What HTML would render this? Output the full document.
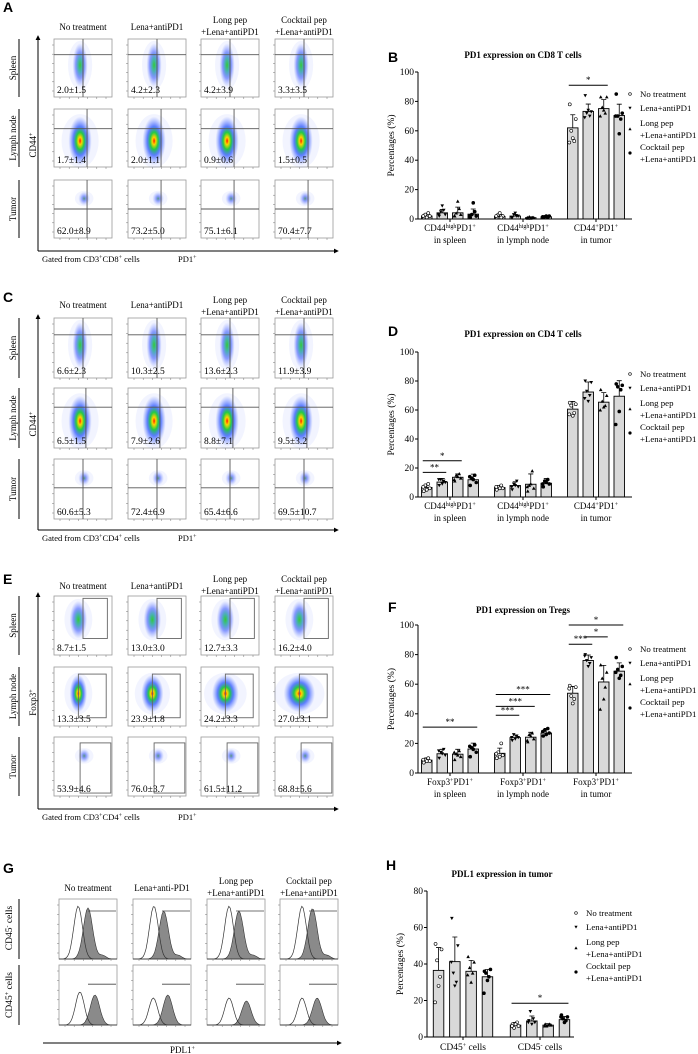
<!DOCTYPE html>
<html><head><meta charset="utf-8">
<style>
html,body{margin:0;padding:0;background:#fff;}
svg{display:block;font-family:"Liberation Serif",serif;}
</style></head>
<body>
<svg id="fig" width="698" height="1054" viewBox="0 0 698 1054" xmlns="http://www.w3.org/2000/svg">
<defs>
<radialGradient id="hot"><stop offset="0" stop-color="#ff1a00"/><stop offset="0.15" stop-color="#ffd400"/><stop offset="0.35" stop-color="#22cc44"/><stop offset="0.6" stop-color="#1f4cff" stop-opacity="0.7"/><stop offset="1" stop-color="#5070ff" stop-opacity="0"/></radialGradient>
<radialGradient id="warm"><stop offset="0" stop-color="#33cc33"/><stop offset="0.3" stop-color="#20a0a0" stop-opacity="0.8"/><stop offset="0.6" stop-color="#2040ff" stop-opacity="0.5"/><stop offset="1" stop-color="#5070ff" stop-opacity="0"/></radialGradient>
<radialGradient id="cool"><stop offset="0" stop-color="#30805a" stop-opacity="0.8"/><stop offset="0.4" stop-color="#2040ff" stop-opacity="0.45"/><stop offset="1" stop-color="#6080ff" stop-opacity="0"/></radialGradient>
<marker id="ah" viewBox="0 0 6 6" refX="5" refY="3" markerWidth="5" markerHeight="5" orient="auto"><path d="M0,0 L6,3 L0,6 z" fill="#000"/></marker>
</defs>
</svg>
<script>
// ---------- chart data ----------
const groupMarkers = ['open-circle','down-triangle','up-triangle','filled-circle'];
const legendLabels = [['No treatment'],['Lena+antiPD1'],['Long pep','+Lena+antiPD1'],['Cocktail pep','+Lena+antiPD1']];
const pctTicks = [0,20,40,60,80,100];
const hTicks = [0,20,40,60,80];

const B_categories = [['CD44','high','PD1','+','in spleen'],['CD44','high','PD1','+','in lymph node'],['CD44','+','PD1','+','in tumor']];
const B_means = [[2.0,4.2,4.2,3.3],[1.7,2.0,0.9,1.5],[62.0,73.2,75.1,70.4]];
const B_errs = [[1.5,2.3,3.9,3.5],[1.4,1.1,0.6,0.5],[8.9,5.0,6.1,7.7]];
const B_points = [
 [[1,2,3,4,1,2],[2,3,5,6,9,3],[2,3,4,7,12,2],[1,2,3,5,11,2]],
 [[1,2,3,1,4,2],[1,2,3,2,4,1],[0.5,1,1.5,1,0.5,1],[1,2,1.5,1,2,1.5]],
 [[78,68,60,53,55,52],[84,73,72,70,74,69],[83,83,76,72,74,70],[85,72,70,68,58,70]]];
const B_sig = [[2,0,2,91,'*']];

const D_categories = [['CD44','high','PD1','+','in spleen'],['CD44','high','PD1','+','in lymph node'],['CD44','+','PD1','+','in tumor']];
const D_means = [[6.6,10.3,13.6,11.9],[6.5,7.9,8.8,9.5],[60.6,72.4,65.4,69.5]];
const D_errs = [[2.3,2.5,2.3,3.9],[1.5,2.6,7.1,3.2],[5.3,6.9,6.6,10.7]];
const D_points = [
 [[4,6,8,9,5,7],[8,10,12,11,9,12],[11,13,15,16,14,12],[8,10,13,15,12,14]],
 [[5,6,7,8,6,7],[5,7,9,11,8,7],[4,6,8,18,9,7],[7,9,11,12,10,9]],
 [[65,64,63,58,56,57],[80,79,73,70,66,68],[74,70,66,63,62,60],[78,77,76,74,59,50]]];
const D_sig = [[0,0,1,17,'**'],[0,0,2,25,'*']];

const F_categories = [['Foxp3','+','PD1','+','in spleen'],['Foxp3','+','PD1','+','in lymph node'],['Foxp3','+','PD1','+','in tumor']];
const F_means = [[8.7,13.0,12.7,16.2],[13.3,23.9,24.2,27.0],[53.9,76.0,61.5,68.8]];
const F_errs = [[1.5,3.0,3.3,4.0],[3.5,1.8,3.3,3.1],[4.6,3.7,11.2,5.6]];
const F_points = [
 [[7,8,9,10,8,9],[10,12,14,16,13,15],[9,11,13,15,12,14],[11,14,17,19,16,18]],
 [[10,12,14,20,11,13],[22,24,26,25,23,24],[21,23,26,27,25,22],[25,27,29,30,26,28]],
 [[59,58,52,50,47,57],[80,78,76,74,72,79],[73,68,64,58,50,43],[78,72,70,66,64,68]]];
const F_sig = [[0,0,3,31,'**'],[1,0,1,39,'***'],[1,0,2,45,'***'],[1,0,3,53,'***'],[2,0,1,87,'***'],[2,1,2,92,'*'],[2,0,3,100,'*']];

const H_categories = [['CD45','+','','',' cells'],['CD45','-','','',' cells']];
const H_means = [[36.5,41.3,36.0,33.0],[6.5,8.8,6.5,9.5]];
const H_errs = [[12.5,13.5,6.0,4.0],[1.5,2.7,0.8,1.7]];
const H_points = [
 [[51,48,42,33,28,19],[65,50,35,30,28,41],[44,41,38,35,30,34],[36,37,35,33,31,24]],
 [[7,6,5,8,7,6],[9,8,14,10,7,8],[7,6.5,6,7,6.5,6],[12,11,10,9,8,11]]];
const H_sig = [[1,0,3,18.5,'*']];

// flow / histogram values
const flowHeaders = [['No treatment'],['Lena+antiPD1'],['Long pep','+Lena+antiPD1'],['Cocktail pep','+Lena+antiPD1']];
const gHeaders = [['No treatment'],['Lena+anti-PD1'],['Long pep','+Lena+antiPD1'],['Cocktail pep','+Lena+antiPD1']];
const A_values = [['2.0±1.5','4.2±2.3','4.2±3.9','3.3±3.5'],['1.7±1.4','2.0±1.1','0.9±0.6','1.5±0.5'],['62.0±8.9','73.2±5.0','75.1±6.1','70.4±7.7']];
const C_values = [['6.6±2.3','10.3±2.5','13.6±2.3','11.9±3.9'],['6.5±1.5','7.9±2.6','8.8±7.1','9.5±3.2'],['60.6±5.3','72.4±6.9','65.4±6.6','69.5±10.7']];
const E_values = [['8.7±1.5','13.0±3.0','12.7±3.3','16.2±4.0'],['13.3±3.5','23.9±1.8','24.2±3.3','27.0±3.1'],['53.9±4.6','76.0±3.7','61.5±11.2','68.8±5.6']];

// ---------- helpers ----------
const NS='http://www.w3.org/2000/svg';
const svg=document.getElementById('fig');
function mk(tag,attrs,parent){const e=document.createElementNS(NS,tag);for(const k in attrs)e.setAttribute(k,attrs[k]);(parent||svg).appendChild(e);return e;}
function txt(x,y,s,attrs,parent){const e=mk('text',Object.assign({x:x,y:y,'font-size':9},attrs||{}),parent);e.innerHTML=s;return e;}
const colX=[54,128,201,275];
const colW=58;

function panelLabel(ch,x,y){
  const t=txt(x,y,ch,{'font-family':'Liberation Sans, sans-serif','font-weight':'bold','font-size':14});
  
  
}

function headers(list,ySingle,y1,y2,xs,w){
  list.forEach((h,i)=>{
    const cx=xs[i]+w/2;
    if(h.length===1){
      const t=txt(cx,ySingle,h[0],{'text-anchor':'middle','font-size':9});
      
      
    } else {
      const t1=txt(cx,y1,h[0],{'text-anchor':'middle','font-size':9});
      
      
      const t2=txt(cx,y2,h[1],{'text-anchor':'middle','font-size':9});
      
      
    }
  });
}

function rowLabel(s,top,h){
  const l=mk('line',{x1:19,y1:top,x2:19,y2:top+h,stroke:'#000','stroke-width':1});
  
  
  const cy=top+h/2;
  const t=txt(13,cy,s,{'text-anchor':'middle','font-size':9,transform:'rotate(-90 13 '+cy+')',dy:3});
  
  
}

function axesArrows(topY,arrowY,yLabel,xLeftLabel,xRightLabel,xEnd){
  const v=mk('line',{x1:38,y1:arrowY,x2:38,y2:topY-3,stroke:'#000','stroke-width':1,'marker-end':'url(#ah)'});
  
  
  const hz=mk('line',{x1:38,y1:arrowY,x2:xEnd,y2:arrowY,stroke:'#000','stroke-width':1,'marker-end':'url(#ah)'});
  
  
  if(yLabel){
    const cy=(topY+arrowY)/2;
    const t=txt(33,cy,yLabel,{'text-anchor':'middle','font-size':9,transform:'rotate(-90 33 '+cy+')',dy:3});
    
    
  }
  if(xLeftLabel){
    const t=txt(42,arrowY+11,xLeftLabel,{'font-size':8.5});
    
    
  }
  const t2=txt(xLeftLabel?178:170,arrowY+11,xRightLabel,{'font-size':8.5});
  
  
}

function boxTicks(g,x,y,w,h){
  for(let k=0;k<6;k++){
    mk('line',{x1:x-2,y1:y+6+k*(h-12)/5,x2:x,y2:y+6+k*(h-12)/5,stroke:'#777','stroke-width':0.5},g);
    mk('line',{x1:x+6+k*(w-12)/5,y1:y+h,x2:x+6+k*(w-12)/5,y2:y+h+2,stroke:'#777','stroke-width':0.5},g);
  }
}

const blobSpec=[
  {cx:0.45,cy:0.45,rx:0.13,ry:0.38,grad:'warm'},
  {cx:0.45,cy:0.55,rx:0.2,ry:0.42,grad:'hot'},
  {cx:0.52,cy:0.32,rx:0.1,ry:0.12,grad:'cool'}];

function flowPanel(rows,h,values,gate,gatesByRow){
  rows.forEach((top,r)=>{
    colX.forEach((x,c)=>{
      const g=mk('g',{});
      
      
      mk('rect',{x:x,y:top,width:colW,height:h,fill:'#fff',stroke:'#999','stroke-width':0.8},g);
      const b=blobSpec[r];
      let spec=b;
      if(gate==='rect' && r<2){spec={cx:0.42,cy:0.4+0.05*r,rx:0.15+0.04*c*(r),ry:0.32,grad:r===0?'warm':'hot'};}
      mk('ellipse',{cx:x+spec.cx*colW,cy:top+spec.cy*h,rx:spec.rx*colW*1.6,ry:spec.ry*h*1.1,fill:'#4466ff','fill-opacity':0.07},g);
      mk('ellipse',{cx:x+spec.cx*colW,cy:top+spec.cy*h,rx:spec.rx*colW,ry:spec.ry*h,fill:'url(#'+spec.grad+')'},g);
      const gt=gatesByRow[r];
      if(gate==='quad'){
        mk('line',{x1:x,y1:top+gt[1]*h,x2:x+colW,y2:top+gt[1]*h,stroke:'#555','stroke-width':0.9},g);
        mk('line',{x1:x+gt[0]*colW,y1:top,x2:x+gt[0]*colW,y2:top+h,stroke:'#555','stroke-width':0.9},g);
      } else {
        mk('rect',{x:x+gt[0]*colW,y:top+gt[1]*h,width:(gt[2]-gt[0])*colW,height:(gt[3]-gt[1])*h,fill:'none',stroke:'#666','stroke-width':0.9},g);
      }
      boxTicks(g,x,top,colW,h);
      const t=txt(x+3,top+h-4,values[r][c],{'font-size':9.5},g);
      
      
    });
  });
}

function histPath(x,y,w,h,mu,peak,sd,tail){
  let d='M'+x+','+(y+h);
  for(let i=0;i<=40;i++){
    const u=i/40;
    let v=peak*Math.exp(-Math.pow((u-mu)/sd,2)/2);
    if(tail) v+=tail*Math.exp(-Math.pow((u-mu-0.25)/0.06,2)/2);
    d+=' L'+(x+u*w).toFixed(1)+','+(y+h-v*h).toFixed(1);
  }
  return d+' L'+(x+w)+','+(y+h)+' Z';
}

function histPanel(rows,h){
  const gx=[59,133,207,280];
  const spec=[
    [{o:[0.33,0.88],f:[0.5,0.85]},{o:[0.36,0.88],f:[0.53,0.8]},{o:[0.38,0.88],f:[0.55,0.8]},{o:[0.38,0.88],f:[0.56,0.84]}],
    [{o:[0.36,0.55],f:[0.62,0.5]},{o:[0.35,0.45],f:[0.6,0.5]},{o:[0.38,0.45],f:[0.68,0.4]},{o:[0.38,0.45],f:[0.64,0.45]}]];
  rows.forEach((top,r)=>{
    gx.forEach((x,c)=>{
      const g=mk('g',{});
      
      
      mk('rect',{x:x,y:top,width:colW,height:h,fill:'#fff',stroke:'#999','stroke-width':0.8},g);
      const s=spec[r][c];
      mk('path',{d:histPath(x,top,colW,h,s.f[0],s.f[1],0.08,r===0?0.06:0),fill:'#8a8a8a',stroke:'#333','stroke-width':0.6},g);
      mk('path',{d:histPath(x,top,colW,h,s.o[0],s.o[1],0.075,0),fill:'none',stroke:'#333','stroke-width':0.7},g);
      const gy=top+h*(r===0?0.2:0.32);
      mk('line',{x1:x+colW*0.5,y1:gy,x2:x+colW-1,y2:gy,stroke:'#444','stroke-width':0.8},g);
      boxTicks(g,x,top,colW,h);
    });
    rowLabel('',top,h);
  });
}

function marker(g,type,cx,cy,r){
  if(type==='open-circle') return mk('circle',{cx:cx,cy:cy,r:r*0.85,fill:'#fff',stroke:'#000','stroke-width':0.6},g);
  if(type==='filled-circle') return mk('circle',{cx:cx,cy:cy,r:r,fill:'#000'},g);
  if(type==='down-triangle') return mk('path',{d:'M'+(cx-r)+','+(cy-r*0.8)+' L'+(cx+r)+','+(cy-r*0.8)+' L'+cx+','+(cy+r)+' Z',fill:'#000'},g);
  return mk('path',{d:'M'+(cx-r)+','+(cy+r*0.8)+' L'+(cx+r)+','+(cy+r*0.8)+' L'+cx+','+(cy-r)+' Z',fill:'#000'},g);
}

function barChart(cfg){
  const yS=v=>cfg.y0-v*cfg.ppu;
  const gc=i=>cfg.gc0+i*cfg.gPitch;
  const bx=(i,j)=>gc(i)+(j-1.5)*cfg.bPitch;
  const bw=10.5;
  const g=mk('g',{});
  
  
  const tt=txt(cfg.titleX,cfg.titleY,cfg.title,{'text-anchor':'middle','font-weight':'bold','font-size':9},g);
  
  
  const ticks=cfg.ticks;
  const yl=mk('line',{x1:cfg.x0,y1:yS(0),x2:cfg.x0,y2:yS(ticks[ticks.length-1]),stroke:'#000','stroke-width':1},g);
  
  
  ticks.forEach(v=>{
    mk('line',{x1:cfg.x0-3,y1:yS(v),x2:cfg.x0,y2:yS(v),stroke:'#000','stroke-width':1},g);
    const t=txt(cfg.x0-4,yS(v)+3,String(v),{'text-anchor':'end','font-size':9.5},g);
    
    
  });
  const cy=(yS(0)+yS(ticks[ticks.length-1]))/2;
  const yt=txt(cfg.x0-24,cy,'Percentages (%)',{'text-anchor':'middle','font-size':9.5,transform:'rotate(-90 '+(cfg.x0-24)+' '+cy+')'},g);
  
  
  cfg.means.forEach((grp,i)=>{
    grp.forEach((m,j)=>{
      const r=mk('rect',{x:bx(i,j)-bw/2,y:yS(m),width:bw,height:yS(0)-yS(m),fill:'#d9d9d9',stroke:'#000','stroke-width':0.9},g);
      
      
      const e=cfg.errs[i][j];
      const el=mk('path',{d:'M'+bx(i,j)+','+yS(m)+' L'+bx(i,j)+','+yS(m+e)+' M'+(bx(i,j)-2.5)+','+yS(m+e)+' L'+(bx(i,j)+2.5)+','+yS(m+e),stroke:'#000','stroke-width':0.8,fill:'none'},g);
      
      
      const offs=[-3,3,-1.5,1.5,0,-3.5];
      cfg.points[i][j].forEach((p,k)=>{
        const mm=marker(g,groupMarkers[j],bx(i,j)+offs[k%6],yS(p),1.8);
        
        
      });
    });
  });
  const xl=mk('line',{x1:cfg.x0,y1:yS(0),x2:cfg.xEnd,y2:yS(0),stroke:'#000','stroke-width':1},g);
  
  
  cfg.categories.forEach((c,i)=>{
    mk('line',{x1:gc(i),y1:yS(0),x2:gc(i),y2:yS(0)+3,stroke:'#000','stroke-width':1},g);
    let s=c[0]+'<tspan dy="-3" font-size="6">'+c[1]+'</tspan><tspan dy="3">'+c[2]+'</tspan>'+(c[3]?'<tspan dy="-3" font-size="6">'+c[3]+'</tspan>':'');
    if(cfg.oneLine){
      s=c[0]+'<tspan dy="-3" font-size="6">'+c[1]+'</tspan><tspan dy="3">'+c[4]+'</tspan>';
      const t=txt(gc(i),yS(0)+13,s,{'text-anchor':'middle','font-size':9.5},g);
      
      
    } else {
      const t=txt(gc(i),yS(0)+12,s,{'text-anchor':'middle','font-size':9},g);
      
      
      const t2=txt(gc(i),yS(0)+24,c[4],{'text-anchor':'middle','font-size':9},g);
      
      
    }
  });
  cfg.sig.forEach(s=>{
    const x1=bx(s[0],s[1])-4,x2=bx(s[0],s[2])+4,y=yS(s[3]);
    const l=mk('line',{x1:x1,y1:y,x2:x2,y2:y,stroke:'#000','stroke-width':1},g);
    
    
    const t=txt((x1+x2)/2,y-2,s[4],{'text-anchor':'middle','font-size':9},g);
    
    
  });
  const ly=[25,39,54,66,78,90];
  const rows=[[ly[0]],[ly[1]],[ly[2],ly[3]],[ly[4],ly[5]]];
  legendLabels.forEach((lab,k)=>{
    const base=cfg.legTop;
    const ys=rows[k];
    const my=base+(ys[0]+ys[ys.length-1])/2-3;
    const mm=marker(g,groupMarkers[k],cfg.legX,my,1.6);
    
    
    lab.forEach((s,q)=>{
      const t=txt(cfg.legX+10,base+ys[q],s,{'font-size':8.8},g);
      
      
    });
  });
}

// ---------- panels A, C, E ----------
panelLabel('A',3,12);
headers(flowHeaders,30,23,35,colX,colW);
flowPanel([39,109,180],58,A_values,'quad',[[0.5,0.27],[0.57,0.34],[0.57,0.5]]);
rowLabel('Spleen',39,58);rowLabel('Lymph node',109,58);rowLabel('Tumor',180,58);
axesArrows(39,251,'CD44<tspan dy="-3" font-size="6">+</tspan>','Gated from CD3<tspan dy="-3" font-size="6">+</tspan><tspan dy="3">CD8</tspan><tspan dy="-3" font-size="6">+</tspan><tspan dy="3"> cells</tspan>','PD1<tspan dy="-3" font-size="6">+</tspan>',338);

panelLabel('C',3,302);
headers(flowHeaders,308,303,315,colX,colW);
flowPanel([318,388,459],60,C_values,'quad',[[0.5,0.28],[0.55,0.32],[0.5,0.48]]);
rowLabel('Spleen',318,60);rowLabel('Lymph node',388,60);rowLabel('Tumor',459,60);
axesArrows(318,530,'CD44<tspan dy="-3" font-size="6">+</tspan>','Gated from CD3<tspan dy="-3" font-size="6">+</tspan><tspan dy="3">CD4</tspan><tspan dy="-3" font-size="6">+</tspan><tspan dy="3"> cells</tspan>','PD1<tspan dy="-3" font-size="6">+</tspan>',338);

panelLabel('E',3,584);
headers(flowHeaders,589,582,594,colX,colW);
flowPanel([596,667,737],59,E_values,'rect',[[0.5,0.04,0.92,0.72],[0.42,0.12,0.9,0.86],[0.45,0.1,0.98,0.95]]);
rowLabel('Spleen',596,59);rowLabel('Lymph node',667,59);rowLabel('Tumor',737,59);
axesArrows(596,809,'Foxp3<tspan dy="-3" font-size="6">+</tspan>','Gated from CD3<tspan dy="-3" font-size="6">+</tspan><tspan dy="3">CD4</tspan><tspan dy="-3" font-size="6">+</tspan><tspan dy="3"> cells</tspan>','PD1<tspan dy="-3" font-size="6">+</tspan>',338);

// ---------- panel G ----------
panelLabel('G',3,873);
headers(gHeaders,891,884,896,[59,133,207,280],colW);
histPanel([899,965],60);
(function(){
  const r1=txt(12,928,'CD45<tspan dy="-3" font-size="6">-</tspan><tspan dy="3"> cells</tspan>',{'text-anchor':'middle','font-size':9.5,transform:'rotate(-90 12 928)'});
  
  
  const r2=txt(12,995,'CD45<tspan dy="-3" font-size="6">+</tspan><tspan dy="3"> cells</tspan>',{'text-anchor':'middle','font-size':9.5,transform:'rotate(-90 12 995)'});
  
  
  const hz=mk('line',{x1:43,y1:1043,x2:341,y2:1043,stroke:'#000','stroke-width':1,'marker-end':'url(#ah)'});
  
  
  const t=txt(170,1053,'PDL1<tspan dy="-3" font-size="6">+</tspan>',{'font-size':9});
  
  
})();

// ---------- bar charts ----------
panelLabel('B',388,62);
barChart({name:'chart-b',title:'PD1 expression on CD8 T cells',titleX:523,titleY:58,x0:418,xEnd:632,y0:219,ppu:1.47,ticks:pctTicks,gc0:450,gPitch:73,bPitch:15.5,categories:B_categories,means:B_means,errs:B_errs,points:B_points,sig:B_sig,legX:630,legTop:72});
panelLabel('D',388,336);
barChart({name:'chart-d',title:'PD1 expression on CD4 T cells',titleX:523,titleY:337,x0:418,xEnd:632,y0:497,ppu:1.45,ticks:pctTicks,gc0:450,gPitch:73,bPitch:15.5,categories:D_categories,means:D_means,errs:D_errs,points:D_points,sig:D_sig,legX:630,legTop:352});
panelLabel('F',388,612);
barChart({name:'chart-f',title:'PD1 expression on Tregs',titleX:523,titleY:613,x0:418,xEnd:632,y0:773,ppu:1.48,ticks:pctTicks,gc0:450,gPitch:73,bPitch:15.5,categories:F_categories,means:F_means,errs:F_errs,points:F_points,sig:F_sig,legX:630,legTop:627});
panelLabel('H',386,870);
barChart({name:'chart-h',title:'PDL1 expression in tumor',titleX:502,titleY:877,x0:427,xEnd:574,y0:1037,ppu:1.825,ticks:hTicks,gc0:463,gPitch:77,bPitch:16.3,categories:H_categories,means:H_means,errs:H_errs,points:H_points,sig:H_sig,legX:576,legTop:891,oneLine:true});
</script>
</body></html>
